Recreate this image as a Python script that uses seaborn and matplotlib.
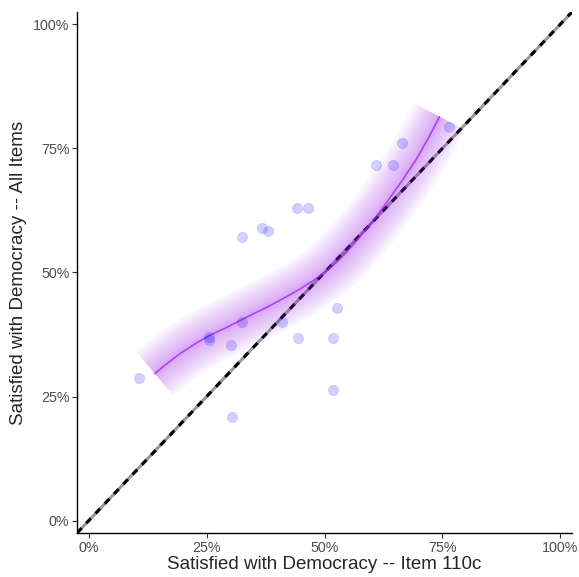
import numpy as np
import pandas as pd
import seaborn as sns
from matplotlib import pyplot as plt
from matplotlib.ticker import PercentFormatter

# points: item 110c vs all items
item_110c = [0.763, 0.665, 0.609, 0.645, 0.441, 0.466, 0.368, 0.381, 0.324, 0.527,
             0.326, 0.410, 0.255, 0.254, 0.302, 0.444, 0.517, 0.107, 0.519, 0.304]
all_items = [0.794, 0.760, 0.717, 0.717, 0.629, 0.629, 0.590, 0.583, 0.571, 0.428,
             0.400, 0.401, 0.369, 0.364, 0.354, 0.368, 0.367, 0.287, 0.263, 0.208]

# smoothed curve
curve_x = [0.140, 0.165, 0.193, 0.225, 0.256, 0.292, 0.327, 0.352, 0.376, 0.419,
           0.447, 0.475, 0.504, 0.525, 0.546, 0.567, 0.588, 0.610, 0.631, 0.648,
           0.666, 0.677, 0.694, 0.708, 0.722, 0.744]
curve_y = [0.296, 0.316, 0.336, 0.356, 0.373, 0.389, 0.406, 0.418, 0.429, 0.451,
           0.466, 0.483, 0.503, 0.520, 0.540, 0.563, 0.587, 0.613, 0.640, 0.663,
           0.687, 0.703, 0.727, 0.750, 0.774, 0.814]

pts = pd.DataFrame({'x': item_110c, 'y': all_items})
crv = pd.DataFrame({'x': curve_x, 'y': curve_y})

sns.set_style('white')
plt.rcParams['font.family'] = ['Liberation Sans', 'DejaVu Sans']

fig = plt.figure(figsize=(5.79, 5.77), dpi=100)
ax = fig.add_axes([0.133, 0.0763, 0.855, 0.903])

# diagonal reference
ax.axline((0, 0), slope=1, color='#999999', lw=2.2, zorder=1)
ax.axline((0, 0), slope=1, color='black', lw=2.2, ls=(0, (2.2, 2.2)), zorder=1.1)

# gradient band as stacked wide strokes
for w in [42, 38, 34, 30, 26, 22, 18, 14, 10, 7, 4]:
    sns.lineplot(data=crv, x='x', y='y', ax=ax, color='#A020F0', lw=w, alpha=0.04,
                 solid_capstyle='butt', solid_joinstyle='round', zorder=2)
sns.lineplot(data=crv, x='x', y='y', ax=ax, color='#A020F0', lw=1.2, alpha=0.75,
             solid_joinstyle='round', zorder=3)

sns.scatterplot(data=pts, x='x', y='y', ax=ax, color='blue', alpha=0.18, s=55,
                edgecolor='blue', linewidth=0.4, zorder=4)

ax.set_xlim(-0.025, 1.025)
ax.set_ylim(-0.025, 1.025)
ticks = [0, 0.25, 0.5, 0.75, 1.0]
ax.set_xticks(ticks)
ax.set_yticks(ticks)
ax.xaxis.set_major_formatter(PercentFormatter(1.0, decimals=0))
ax.yaxis.set_major_formatter(PercentFormatter(1.0, decimals=0))
ax.tick_params(axis='both', length=3.5, width=0.8, color='#333333', labelsize=10.3,
               labelcolor='#4d4d4d', direction='out', pad=2, bottom=True, left=True)
sns.despine(ax=ax)
for s in ['left', 'bottom']:
    ax.spines[s].set_color('black')
    ax.spines[s].set_linewidth(1.0)

ax.set_xlabel('Satisfied with Democracy -- Item 110c', fontsize=13.5, labelpad=1)
ax.set_ylabel('Satisfied with Democracy -- All Items', fontsize=13.5, labelpad=4)

fig.savefig('out.png', dpi=100)
